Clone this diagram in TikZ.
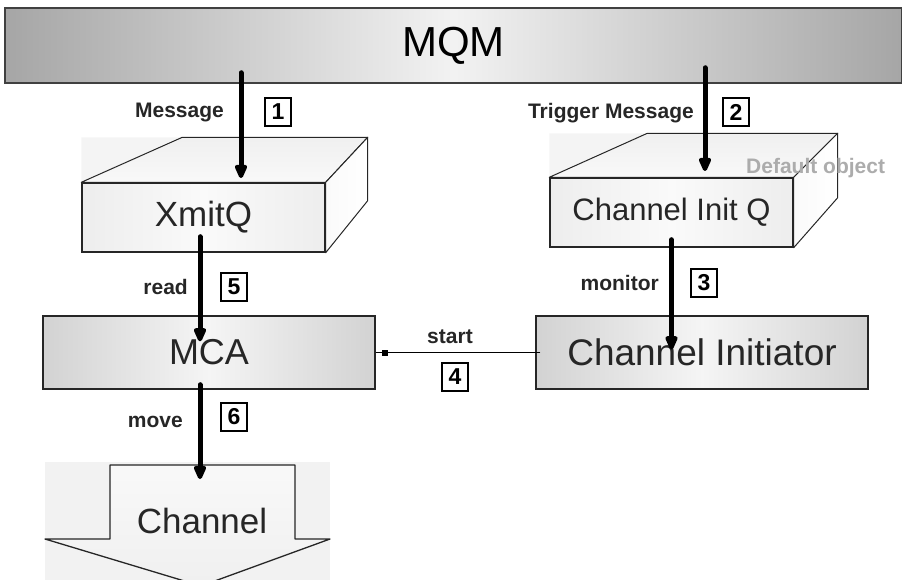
\documentclass[tikz,border=0pt]{standalone}
\usepackage{fontspec}
\setmainfont{Liberation Sans}
\usetikzlibrary{arrows.meta, positioning, calc, backgrounds}
\tikzset{
  bar/.style={rectangle, draw=black!75, line width=1.5pt, minimum width=897pt,
              minimum height=75pt, left color=gray!70, right color=gray!70,
              middle color=gray!10, font=\fontsize{42}{46}\selectfont},
  face/.style={rectangle, draw=black!85, line width=1.4pt, inner sep=0pt,
               text=black!85},
  qfront/.style={face, minimum width=243pt, minimum height=69pt,
                 left color=gray!14, right color=gray!14, middle color=gray!4},
  proc/.style={face, minimum width=332pt, minimum height=73pt,
                left color=gray!35, right color=gray!35, middle color=gray!8},
  edge/.style={draw=black!85, line width=1pt, line join=round},
  flow/.style={line width=5pt, line cap=round,
               -{Triangle[round, width=13pt, length=17pt]}},
  lbl/.style={font=\fontsize{21}{24}\selectfont\bfseries, inner sep=0pt,
              text=black!85},
  num/.style={draw, line width=1.2pt, minimum width=26pt, minimum height=28pt,
              inner sep=0pt, font=\fontsize{23}{25}\selectfont\bfseries},
  sq/.style={fill=black, minimum size=6pt, inner sep=0pt}
}
\begin{document}
\begin{tikzpicture}[x=1pt, y=-1pt]
  \useasboundingbox (0,0) rectangle (902,580);
  \node[bar] (mqm) at (453.5,45.5) {MQM};

  % queues
  \node[qfront, font=\fontsize{35}{40}\selectfont] (xmit) at (203.5,217.5) {XmitQ};
  \path (xmit.north west) ++(101,-45) coordinate (xmitbl)
        (xmit.north east) ++(42,-45) coordinate (xmitbr)
        (xmit.south east) ++(42,-52) coordinate (xmitbb);
  \node[qfront, font=\fontsize{31}{36}\selectfont] (ciq) at (671.5,212.5) {Channel Init Q};
  \path (ciq.north west) ++(98,-44) coordinate (ciqbl)
        (ciq.north east) ++(44,-44) coordinate (ciqbr)
        (ciq.south east) ++(44,-50) coordinate (ciqbb);
  \begin{scope}[on background layer]
    \fill[gray!9] (xmit.south west) -- (xmit.west |- xmitbl) -- (xmitbr) -- (xmitbb)
      -- (xmit.south east) -- cycle;
    \fill[gray!9] (ciq.south west) -- (ciq.west |- ciqbl) -- (ciqbr) -- (ciqbb)
      -- (ciq.south east) -- cycle;
  \end{scope}
  \foreach \q in {xmit, ciq} {
    \draw[edge, top color=gray!12, bottom color=gray!5]
      (\q.north west) -- (\q bl) -- (\q br) -- (\q.north east) -- cycle;
    \draw[edge, left color=gray!4, right color=white]
      (\q.north east) -- (\q br) -- (\q bb) -- (\q.south east) -- cycle;
  }
  \node[lbl, text=gray!65, anchor=west] (dflt) at (746,168) {Default object};

  % agents
  \node[proc, font=\fontsize{36}{40}\selectfont] (mca) at (209,352.5) {MCA};
  \node[proc, font=\fontsize{37}{42}\selectfont] (cinit) at (702,352.5) {Channel Initiator};

  % channel
  \begin{scope}
    \clip (0,0) rectangle (902,580);
    \fill[gray!10] (45,462) rectangle (330,580);
    \draw[edge, line width=1.3pt, top color=gray!5, bottom color=gray!12]
      (110,465) -- (295,465) -- (295,539) -- (330,539) -- (201,586)
      -- (45,539) -- (110,539) -- cycle;
  \end{scope}
  \node[text=black!85, font=\fontsize{35}{40}\selectfont] (chan) at (202,521) {Channel};
  \coordinate (chantop) at (200,465);

  % flows
  \coordinate (xmitin) at (241,178);
  \coordinate (ciqin) at (705,171);
  \draw[flow] ([yshift=11pt]mqm.south -| xmitin) -- (xmitin);
  \draw[flow] ([yshift=16pt]mqm.south -| ciqin) -- (ciqin);
  \draw[flow] ([yshift=8pt]ciq.south) -- ([yshift=-34pt]ciq.south |- cinit.north);
  \draw[flow] ([yshift=16pt]xmit.south -| chantop) -- ([yshift=-26pt]mca.north -| chantop);
  \draw[flow] ([yshift=5pt]mca.south -| chantop) -- ([yshift=-14pt]chantop);
  \draw[line width=1pt] ([xshift=5pt]cinit.west) -- (mca.east);
  \node[sq, right=6pt of mca.east] (tick) {};

  \node[lbl, anchor=east] (lmsg) at (224,113) {Message};
  \node[num] (n1) at (278,112) {1};
  \node[lbl, anchor=east] (ltrig) at (694,113) {Trigger Message};
  \node[num] (n2) at (736,112) {2};
  \node[lbl, anchor=east] (lmon) at (659,283) {monitor};
  \node[num] (n3) at (704,283) {3};
  \node[lbl] (lstart) at (450,337) {start};
  \node[num] (n4) at (455,377) {4};
  \node[lbl, anchor=east] (lread) at (188,287) {read};
  \node[num] (n5) at (234,287) {5};
  \node[lbl, anchor=east] (lmove) at (183,422) {move};
  \node[num] (n6) at (234,417) {6};
\end{tikzpicture}
\end{document}
